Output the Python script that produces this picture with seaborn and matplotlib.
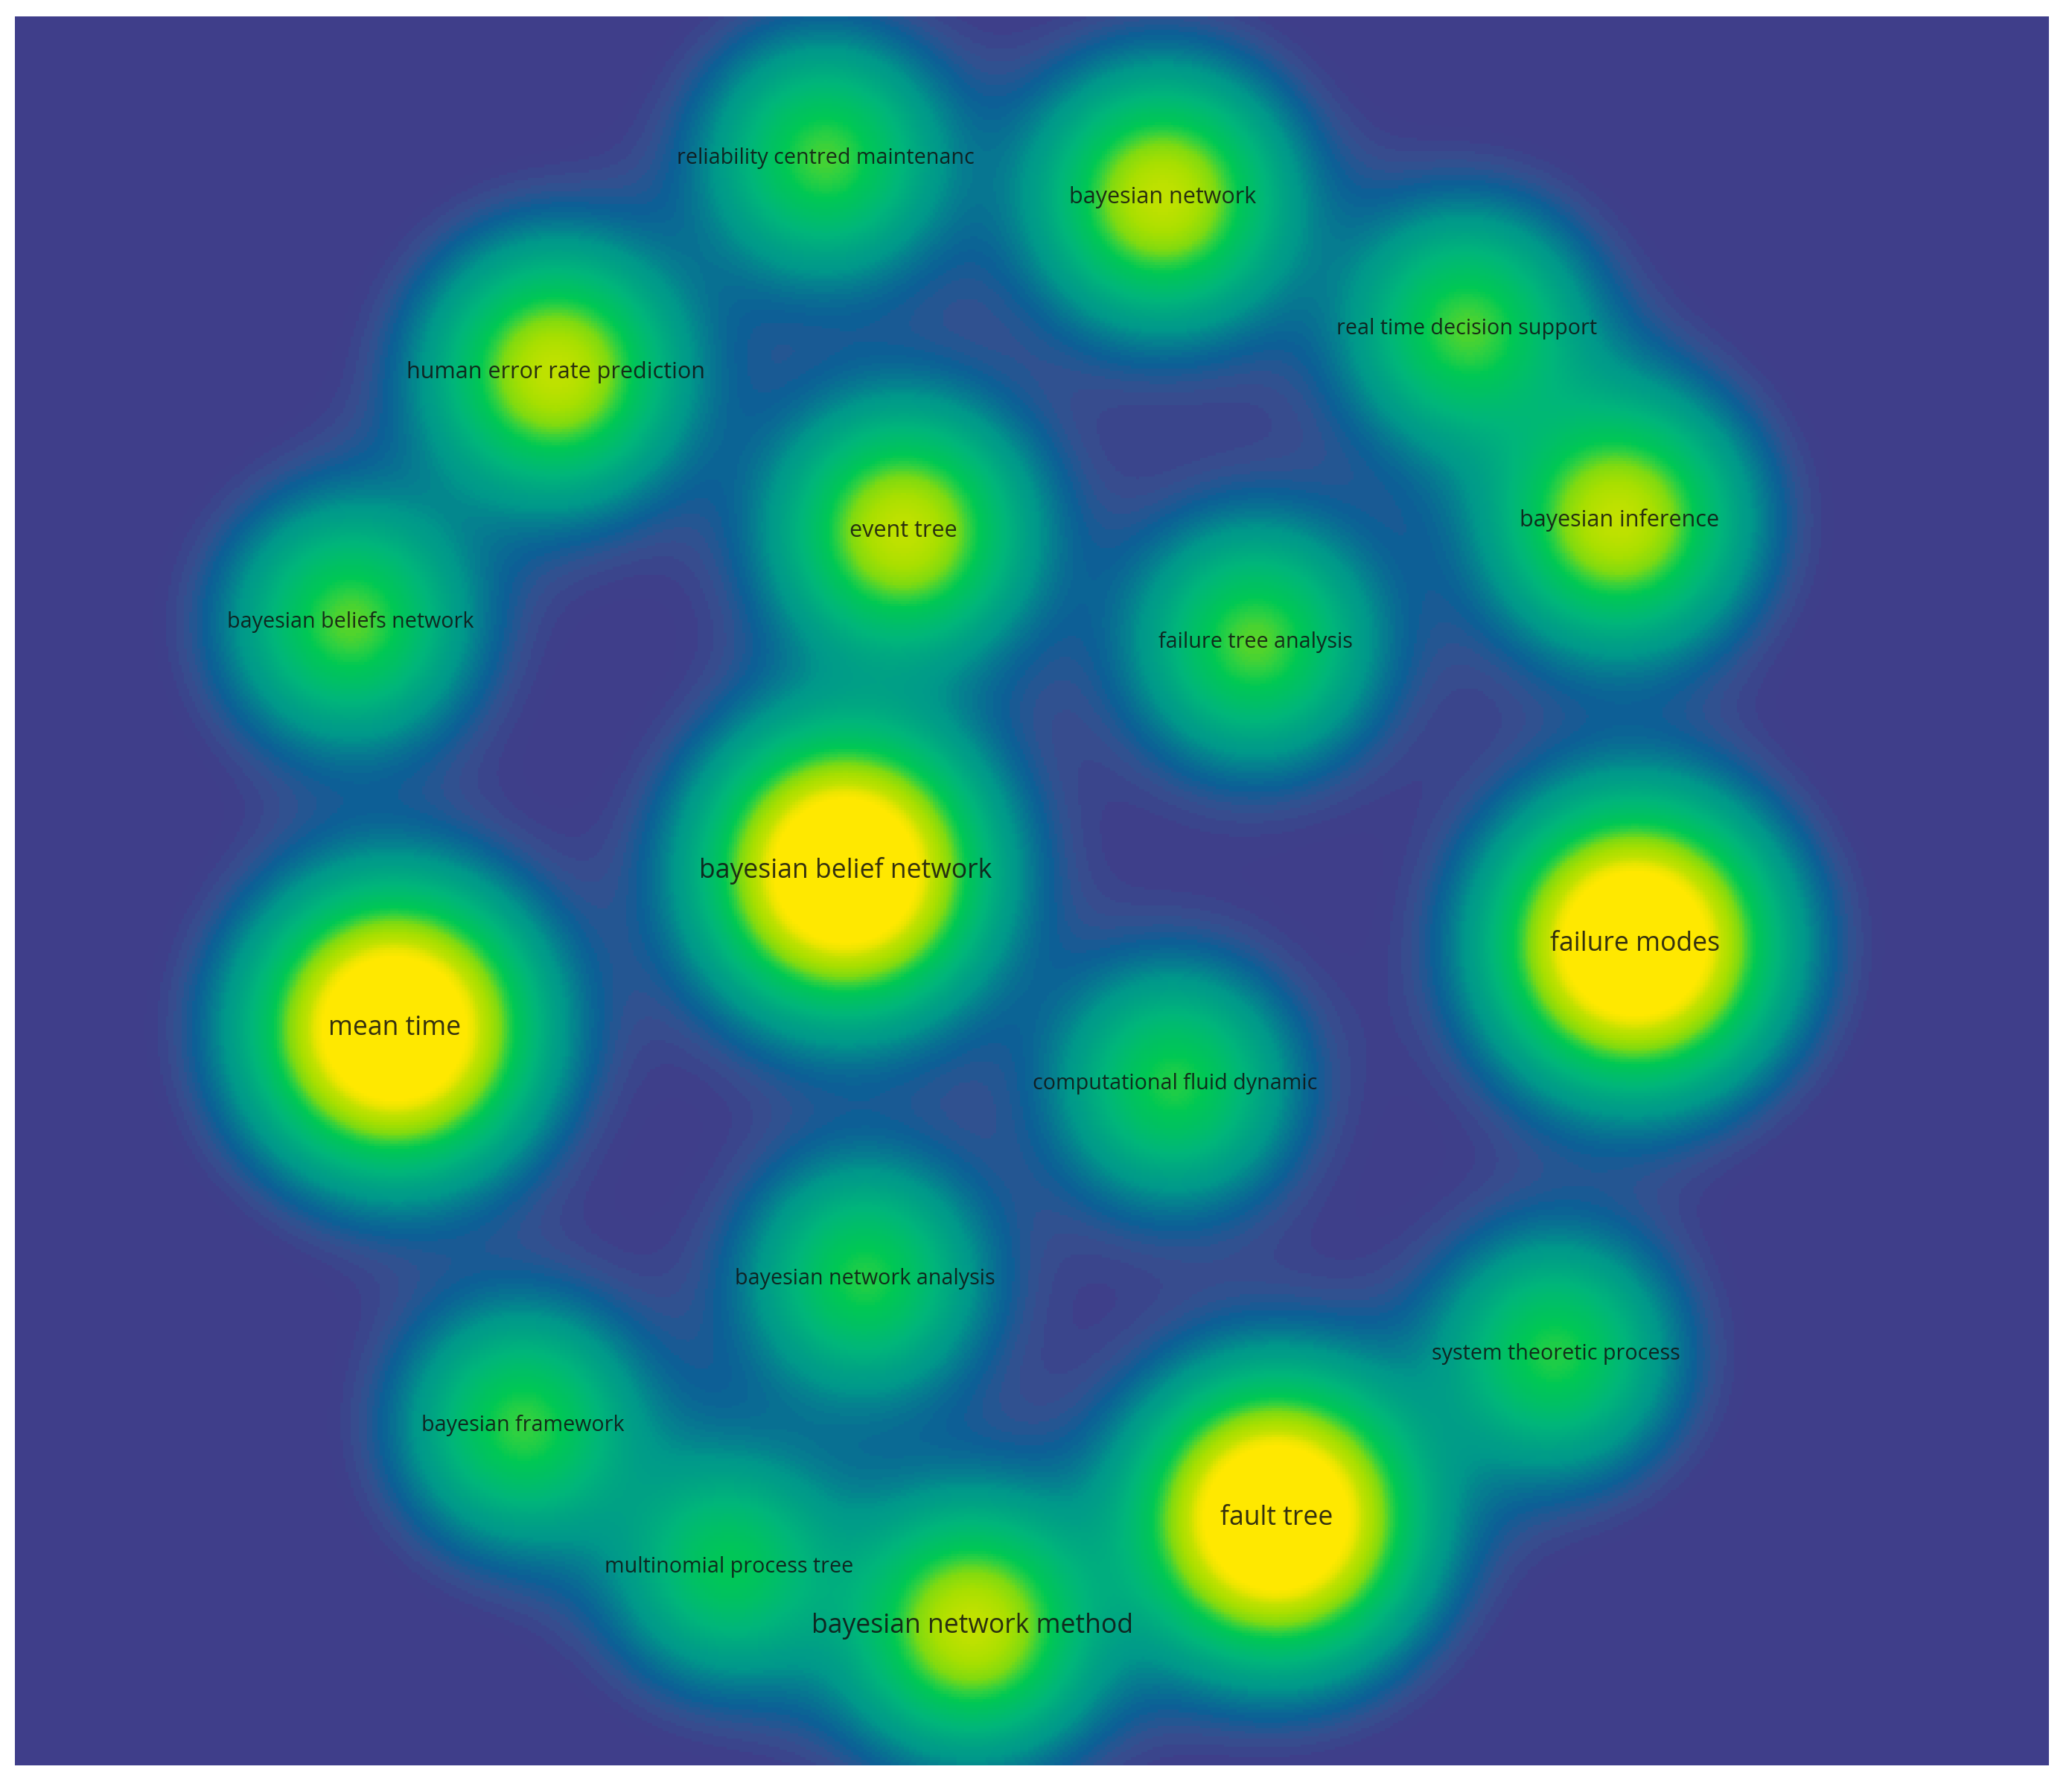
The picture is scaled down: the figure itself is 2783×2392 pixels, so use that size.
import numpy as np
import pandas as pd
import matplotlib
matplotlib.use("Agg")
import matplotlib.pyplot as plt
from matplotlib.colors import LinearSegmentedColormap
import seaborn as sns

# term map: label, position (map units, y down), weight
terms = ["reliability centred maintenanc", "bayesian network", "human error rate prediction",
         "real time decision support", "event tree", "bayesian inference",
         "bayesian beliefs network", "failure tree analysis", "bayesian belief network",
         "failure modes", "mean time", "computational fluid dynamic",
         "bayesian network analysis", "system theoretic process", "bayesian framework",
         "fault tree", "multinomial process tree", "bayesian network method"]
pos_x = [613, 868, 409, 1098, 672, 1213, 254, 938, 628, 1225, 287, 877, 643, 1165, 384, 954, 540, 724]
pos_y = [107, 137, 269, 236, 389, 381, 458, 473, 646, 701, 765, 807, 954, 1011, 1065, 1135, 1172, 1217]
weight = [1.15, 1.8, 1.8, 1.15, 1.8, 1.8, 1.2, 1.2, 4.1, 4.1, 4.1, 1.05, 1.05, 1.05, 1.1, 4.1, 0.9, 1.8]
label_size = [10.3, 11.0, 11.0, 10.3, 11.0, 11.0, 10.3, 10.3, 12.8, 12.8, 12.8, 10.3, 10.3, 10.3, 10.3, 12.8, 10.3, 12.8]

map_w, map_h = 1539, 1323
step = 2.0
core = 80.0
decay = 28.6

# density surface
gx = (np.arange(int(map_w / step)) + 0.5) * step
gy = (np.arange(int(map_h / step)) + 0.5) * step
XX, YY = np.meshgrid(gx, gy)
dens = np.zeros_like(XX)
for x, y, w in zip(pos_x, pos_y, weight):
    r2 = (XX - x) ** 2 + (YY - y) ** 2
    dens += w * np.exp(-(np.sqrt(r2 + core ** 2) - core) / decay)
dens_df = pd.DataFrame(dens)

vmax = 4.5
nodes = [(0.0, "#3f3e8a"), (0.05, "#3f3e8a"), (0.10, "#34508f"), (0.16, "#0c5f96"),
         (0.33, "#00978a"), (0.6, "#00b57a"), (0.95, "#00c853"), (1.1, "#30d040"),
         (1.3, "#80da10"), (1.55, "#a8df00"), (1.8, "#c0e100"), (2.05, "#ebe500"),
         (2.3, "#ffe800"), (4.5, "#ffe800")]
cmap = LinearSegmentedColormap.from_list("vos", [(v / vmax, c) for v, c in nodes])

sns.set_theme(style="white")
plt.rcParams['font.family'] = ['Open Sans', 'DejaVu Sans']

fig = plt.figure(figsize=(2783 / 200, 2392 / 200), dpi=200)
ax = fig.add_axes([20 / 2783, 21 / 2392, 2732 / 2783, 2349 / 2392])
sns.heatmap(dens_df, ax=ax, cmap=cmap, vmin=0, vmax=vmax, cbar=False,
            xticklabels=False, yticklabels=False, rasterized=True)

for t, x, y, s in zip(terms, pos_x, pos_y, label_size):
    ax.text(x / step, y / step, t, ha="center", va="center", fontsize=s,
            color="#111111", alpha=0.85)

ax.set_xlabel("")
ax.set_ylabel("")
fig.savefig("out.png", dpi=200)
